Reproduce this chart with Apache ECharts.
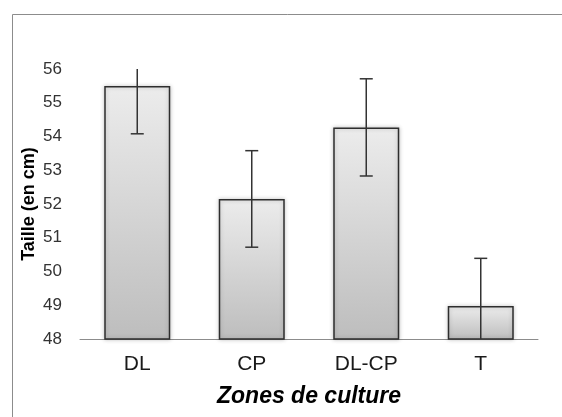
<!DOCTYPE html>
<html>
<head>
<meta charset="utf-8">
<script src="https://cdn.jsdelivr.net/npm/echarts@6/dist/echarts.min.js"></script>
<style>
  html, body { margin: 0; padding: 0; background: #ffffff; }
  #chart { width: 562px; height: 417px; }
</style>
</head>
<body>
<div id="chart"></div>
<script>
// Mean plant height per cultivation zone, with error bars
const zones = ['DL', 'CP', 'DL-CP', 'T'];
const heights = [55.5, 52.15, 54.27, 48.98];
const errors = [1.42, 1.43, 1.44, 1.41];
const yTicks = [48, 49, 50, 51, 52, 53, 54, 55, 56];

const yMin = yTicks[0];
const yMax = yTicks[yTicks.length - 1];

const chart = echarts.init(document.getElementById('chart'), null, { renderer: 'canvas' });

const barFill = new echarts.graphic.LinearGradient(0, 0, 0, 1, [
  { offset: 0, color: '#ececec' },
  { offset: 1, color: '#bdbdbd' }
]);

function renderErrorBar(params, api) {
  const x = api.value(0);
  const v = api.value(1);
  const e = api.value(2);
  const hiVal = Math.min(v + e, yMax);
  const loVal = Math.max(v - e, yMin);
  const pHi = api.coord([x, hiVal]);
  const pLo = api.coord([x, loVal]);
  const half = 6.5;
  const style = { stroke: '#333333', lineWidth: 1.5 };
  const children = [{
    type: 'line',
    shape: { x1: pHi[0], y1: pHi[1], x2: pLo[0], y2: pLo[1] },
    style: style
  }];
  if (v + e <= yMax) {
    children.push({ type: 'line', shape: { x1: pHi[0] - half, y1: pHi[1], x2: pHi[0] + half, y2: pHi[1] }, style: style });
  }
  if (v - e >= yMin) {
    children.push({ type: 'line', shape: { x1: pLo[0] - half, y1: pLo[1], x2: pLo[0] + half, y2: pLo[1] }, style: style });
  }
  return { type: 'group', children: children };
}

const option = {
  animation: false,
  backgroundColor: '#ffffff',
  graphic: [{
    type: 'rect',
    left: 10, top: 12,
    shape: { width: 700, height: 600 },
    style: { fill: 'none', stroke: '#8c8c8c', lineWidth: 1 },
    silent: true,
    z: -1
  }],
  grid: { left: 80, right: 24, top: 69, bottom: 78, containLabel: false },
  xAxis: {
    type: 'category',
    data: zones,
    name: 'Zones de culture',
    nameLocation: 'middle',
    nameGap: 46,
    nameMoveOverlap: false,
    nameTextStyle: {
      fontFamily: 'Liberation Sans, Arial, sans-serif',
      fontSize: 23, fontWeight: 'bold', fontStyle: 'italic', color: '#000000'
    },
    axisLine: { show: true, lineStyle: { color: '#8c8c8c', width: 1 } },
    axisTick: { show: false },
    axisLabel: {
      margin: 15,
      fontFamily: 'Liberation Sans, Arial, sans-serif',
      fontSize: 21, color: '#1a1a1a'
    }
  },
  yAxis: {
    type: 'value',
    min: yMin, max: yMax, interval: 1,
    name: 'Taille (en cm)',
    nameLocation: 'middle',
    nameGap: 42,
    nameMoveOverlap: false,
    nameRotate: 90,
    nameTextStyle: {
      fontFamily: 'Liberation Sans, Arial, sans-serif',
      fontSize: 18, fontWeight: 'bold', color: '#000000'
    },
    axisLine: { show: false },
    axisTick: { show: false },
    splitLine: { show: false },
    axisLabel: {
      margin: 18,
      fontFamily: 'Liberation Sans, Arial, sans-serif',
      fontSize: 17, color: '#333333'
    }
  },
  series: [{
    type: 'bar',
    data: heights,
    barWidth: 66,
    itemStyle: {
      color: barFill,
      borderColor: '#2e2e2e',
      borderWidth: 1.5,
      shadowBlur: 4,
      shadowColor: 'rgba(0,0,0,0.22)'
    },
    z: 2
  }, {
    type: 'custom',
    renderItem: renderErrorBar,
    data: zones.map((z, i) => [i, heights[i], errors[i]]),
    z: 3
  }]
};

chart.setOption(option);
</script>
</body>
</html>
